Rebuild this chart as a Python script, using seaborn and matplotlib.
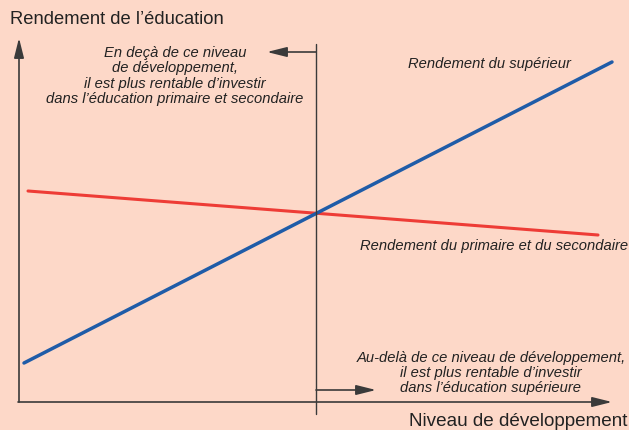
import matplotlib
matplotlib.use("Agg")
import matplotlib.pyplot as plt
import seaborn as sns
import pandas as pd

# Courbes schématiques (niveau de développement -> rendement), repère en pixels
dev_sup = [24, 612]
rend_sup = [363, 62]
dev_prim = [28, 598]
rend_prim = [191, 235]
seuil = 316

bg = "#fdd8c8"
sns.set_theme(style="white")
plt.rcParams["font.family"] = ["Liberation Sans", "DejaVu Sans"]

fig = plt.figure(figsize=(6.29, 4.30), dpi=100, facecolor=bg)
ax = fig.add_axes([0, 0, 1, 1])
ax.set_facecolor(bg)
ax.set_xlim(0, 629)
ax.set_ylim(430, 0)
ax.axis("off")

df_sup = pd.DataFrame({"dev": dev_sup, "rend": rend_sup})
df_prim = pd.DataFrame({"dev": dev_prim, "rend": rend_prim})
sns.lineplot(data=df_prim, x="dev", y="rend", color="#ee3c36", lw=2.2, ax=ax)
sns.lineplot(data=df_sup, x="dev", y="rend", color="#1f5ca8", lw=2.5, ax=ax)

axc = "#3a3a3a"
arrow = dict(arrowstyle="-|>,head_length=1.0,head_width=0.25", color=axc, lw=1.2,
             shrinkA=0, shrinkB=0)
# axes
ax.annotate("", xy=(19, 38), xytext=(19, 402), arrowprops=arrow)
ax.annotate("", xy=(612, 402), xytext=(18, 402), arrowprops=arrow)
# seuil
ax.plot([seuil, seuil], [44, 414], color=axc, lw=1.0)
ax.annotate("", xy=(267, 52), xytext=(seuil, 52), arrowprops=arrow)
ax.annotate("", xy=(376, 390), xytext=(seuil, 390), arrowprops=arrow)

ax.text(10, 20, "Rendement de l\u2019éducation", fontsize=13.2, color="#222222",
        ha="left", va="center")
ax.text(627, 421, "Niveau de développement", fontsize=13.6, color="#222222",
        ha="right", va="center")

it = dict(fontsize=10.6, style="italic", color="#222222")
ax.text(175, 76, "En deçà de ce niveau\nde développement,\nil est plus rentable d\u2019investir\n"
        "dans l\u2019éducation primaire et secondaire", ha="center", va="center",
        linespacing=1.12, **it)
ax.text(491, 373, "Au-delà de ce niveau de développement,\nil est plus rentable d\u2019investir\n"
        "dans l\u2019éducation supérieure", ha="center", va="center",
        linespacing=1.12, **it)
ax.text(489, 64, "Rendement du supérieur", ha="center", va="center", **it)
ax.text(628, 246, "Rendement du primaire et du secondaire", ha="right", va="center", **it)

fig.savefig("out.png", dpi=100, facecolor=bg)
